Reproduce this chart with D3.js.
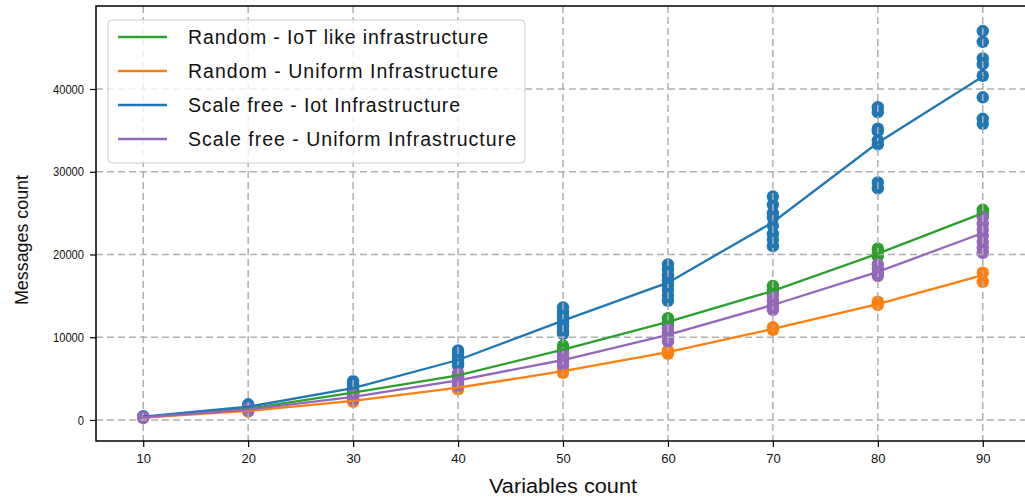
<!DOCTYPE html>
<html>
<head>
<meta charset="utf-8">
<script src="https://cdn.jsdelivr.net/npm/d3@7"></script>
<style>
  html, body { margin: 0; padding: 0; background: #fff; }
  svg { display: block; font-family: "Liberation Sans", Arial, sans-serif; }
</style>
</head>
<body>
<svg id="chart" width="1025" height="498"></svg>
<script>
// ---------- data ----------
const xValues = [10, 20, 30, 40, 50, 60, 70, 80, 90];
const yTicks = [0, 10000, 20000, 30000, 40000];
const seriesNames = [
  "Random - IoT like infrastructure",
  "Random - Uniform Infrastructure",
  "Scale free - Iot Infrastructure",
  "Scale free - Uniform Infrastructure"
];
const seriesColors = ["#2ca02c", "#ff7f0e", "#1f77b4", "#9467bd"];

const randomIotMean = [350, 1350, 3300, 5400, 8500, 11850, 15600, 20100, 25000];
const randomUniformMean = [300, 1100, 2300, 3900, 5900, 8200, 11000, 14000, 17500];
const scaleFreeIotMean = [400, 1600, 3850, 7250, 12000, 16600, 23900, 33500, 41500];
const scaleFreeUniformMean = [320, 1250, 2800, 4800, 7250, 10300, 13900, 17900, 22600];

const randomIotRuns = [
  [350, 300, 400], [1300, 1450, 1250], [3400, 3200, 3300], [5600, 5300, 5200],
  [9000, 8500, 8200], [12300, 11800, 11400], [16200, 15700, 15300],
  [20700, 20100, 19800], [25400, 25000, 24700]
];
const randomUniformRuns = [
  [300, 250], [1150, 1000], [2400, 2200], [4000, 3700], [6000, 5700],
  [8400, 8000], [11200, 10900], [14300, 13900], [17800, 16700]
];
const scaleFreeIotRuns = [
  [450, 350], [1900, 1600, 1400], [4700, 4300, 4000, 3700, 3500],
  [8400, 8000, 7600, 7300, 7000, 6800, 6600],
  [13600, 13100, 12600, 12200, 11800, 11300, 10800, 10400],
  [18800, 18200, 17500, 16900, 16300, 15700, 15000, 14400],
  [27000, 26000, 25000, 24500, 23500, 22500, 21800, 21000],
  [37800, 37200, 35200, 34900, 33800, 33300, 28700, 28000],
  [47000, 45700, 43700, 43000, 41600, 39000, 36400, 35800]
];
const scaleFreeUniformRuns = [
  [350, 250], [1400, 1100], [3100, 2700, 2500], [5600, 5000, 4500, 4100],
  [8000, 7500, 7000, 6600], [11000, 10500, 10000, 9500],
  [15000, 14400, 13800, 13300], [18800, 18300, 17800, 17400],
  [24500, 23700, 23000, 22300, 21500, 20800, 20200]
];

const means = [randomIotMean, randomUniformMean, scaleFreeIotMean, scaleFreeUniformMean];
const runs = [randomIotRuns, randomUniformRuns, scaleFreeIotRuns, scaleFreeUniformRuns];

// ---------- layout ----------
const svg = d3.select("#chart");
const plot = { left: 96, right: 1030, top: 6, bottom: 441 };

const x = d3.scaleLinear().domain([5.5, 94.5]).range([plot.left, plot.right]);
const y = d3.scaleLinear().domain([-2538, 50030]).range([plot.bottom, plot.top]);

const gridColor = "#b0b0b0";

svg.append("defs").append("clipPath").attr("id", "clip")
  .append("rect").attr("x", plot.left).attr("y", plot.top)
  .attr("width", plot.right - plot.left).attr("height", plot.bottom - plot.top);

const body = svg.append("g").attr("clip-path", "url(#clip)");

// scatter (below grid)
runs.forEach((r, si) => {
  const pts = [];
  r.forEach((vals, i) => vals.forEach(v => pts.push({ x: xValues[i], v })));
  body.append("g").selectAll("circle").data(pts).join("circle")
    .attr("cx", d => x(d.x)).attr("cy", d => y(d.v)).attr("r", 6.2)
    .attr("fill", seriesColors[si]);
});

// grid
body.append("g").selectAll("line").data(xValues).join("line")
  .attr("x1", d => x(d)).attr("x2", d => x(d))
  .attr("y1", plot.top).attr("y2", plot.bottom)
  .attr("stroke", gridColor).attr("stroke-width", 1.5).attr("stroke-dasharray", "7,4");
body.append("g").selectAll("line").data(yTicks).join("line")
  .attr("y1", d => y(d)).attr("y2", d => y(d))
  .attr("x1", plot.left).attr("x2", plot.right)
  .attr("stroke", gridColor).attr("stroke-width", 1.5).attr("stroke-dasharray", "7,4");

// lines
const lineGen = d3.line().x((d, i) => x(xValues[i])).y(d => y(d));
means.forEach((m, si) => {
  body.append("path").datum(m).attr("d", lineGen)
    .attr("fill", "none").attr("stroke", seriesColors[si]).attr("stroke-width", 2.3);
});

// axes
const xAxis = d3.axisBottom(x).tickValues(xValues).tickSize(6).tickPadding(7).tickFormat(d3.format("d"));
const yAxis = d3.axisLeft(y).tickValues(yTicks).tickSize(6).tickPadding(6).tickFormat(d3.format("d"));

const gx = svg.append("g").attr("transform", `translate(0,${plot.bottom})`).call(xAxis);
const gy = svg.append("g").attr("transform", `translate(${plot.left},0)`).call(yAxis);
[gx, gy].forEach(g => {
  g.select(".domain").remove();
  g.selectAll(".tick line").attr("stroke", "#000").attr("stroke-width", 1.2);
  g.selectAll(".tick text").attr("fill", "#111").style("font-size", "13px")
    .style("font-family", "'Liberation Sans', Arial, sans-serif");
});
gy.selectAll(".tick text").attr("textLength", function () { return this.textContent.length * 6.2; })
  .attr("lengthAdjust", "spacingAndGlyphs");

// spines
svg.append("rect").attr("x", plot.left).attr("y", plot.top)
  .attr("width", plot.right - plot.left).attr("height", plot.bottom - plot.top)
  .attr("fill", "none").attr("stroke", "#000").attr("stroke-width", 1.5);

// axis labels
svg.append("text").attr("x", (x(10) + x(90)) / 2).attr("y", 493)
  .attr("text-anchor", "middle").style("font-size", "20px").attr("fill", "#111")
  .attr("textLength", 148).attr("lengthAdjust", "spacingAndGlyphs")
  .text("Variables count");
svg.append("text").attr("transform", `translate(28,240) rotate(-90)`)
  .attr("text-anchor", "middle").style("font-size", "19px").attr("fill", "#111")
  .attr("textLength", 130).attr("lengthAdjust", "spacingAndGlyphs")
  .text("Messages count");

// legend
const legend = svg.append("g");
legend.append("rect").attr("x", 108).attr("y", 20).attr("width", 417).attr("height", 143)
  .attr("rx", 4).attr("fill", "#fff").attr("fill-opacity", 0.8)
  .attr("stroke", "#cccccc").attr("stroke-width", 1);
const legendRowY = [37, 71, 105, 139];
const legendTextLen = [300, 310, 272, 328];
seriesNames.forEach((name, i) => {
  legend.append("line").attr("x1", 118).attr("x2", 167)
    .attr("y1", legendRowY[i]).attr("y2", legendRowY[i])
    .attr("stroke", seriesColors[i]).attr("stroke-width", 2.3);
  legend.append("text").attr("x", 188).attr("y", legendRowY[i] + 7)
    .style("font-size", "19.5px").attr("fill", "#111")
    .attr("textLength", legendTextLen[i]).attr("lengthAdjust", "spacing")
    .text(name);
});
</script>
</body>
</html>
